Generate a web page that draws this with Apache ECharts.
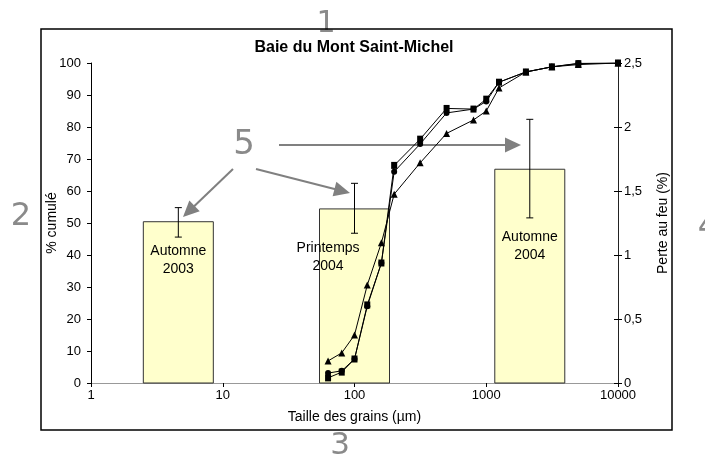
<!DOCTYPE html>
<html><head><meta charset="utf-8">
<script src="https://cdn.jsdelivr.net/npm/echarts@6/dist/echarts.min.js"></script>
<style>html,body{margin:0;padding:0;background:#fff}#c{width:705px;height:459px}</style>
</head><body><div id="c"></div>
<script>
// Grain-size distribution (cumulative %)
const sizes = [63, 80, 100, 125, 160, 200, 315, 500, 800, 1000, 1250, 2000, 3150, 5000, 10000];
const squares = [1.6, 3.4, 7.5, 24.4, 37.5, 68, 76.2, 85.8, 85.6, 88.7, 94, 97.2, 98.8, 99.8, 100];
const circles = [3.1, 3.8, 7.5, 24, 37.5, 66, 74.7, 84.4, 85.6, 88, 94, 97.2, 98.8, 99.9, 100];
const triangles = [6.9, 9.4, 15, 30.6, 43.8, 59, 68.8, 78, 82.2, 85, 92.2, 97.2, 98.8, 99.5, 100];
// Loss on ignition bars (right axis)
const barNames = ['Automne\n2003', 'Printemps\n2004', 'Automne\n2004'];
const barCenters = [4.6, 100, 2140];
const barValues = [1.26, 1.36, 1.67];
const errLow = [1.14, 1.17, 1.29];
const errHigh = [1.37, 1.56, 2.06];
const labelX = [4.6, 63, 2140];
const labelY = [0.96, 0.98, 1.07];
// Tick labels
const xTickLabels = ['1', '10', '100', '1000', '10000'];
const leftTickLabels = ['0','10','20','30','40','50','60','70','80','90','100'];
const rightTickLabels = ['0', '0,5', '1', '1,5', '2', '2,5'];

const FONT = 'Liberation Sans, Arial, sans-serif';
const chart = echarts.init(document.getElementById('c'), null, {renderer: 'canvas'});

function arrow(x1, y1, x2, y2) {
  const dx = x2 - x1, dy = y2 - y1, L = Math.hypot(dx, dy), ux = dx / L, uy = dy / L;
  const hl = 16, hw = 7.5;
  const bx = x2 - ux * hl, by = y2 - uy * hl;
  return [
    {type: 'line', shape: {x1: x1, y1: y1, x2: bx + ux * 2, y2: by + uy * 2}, style: {stroke: '#808080', lineWidth: 2}},
    {type: 'polygon', shape: {points: [[x2, y2], [bx - uy * hw, by + ux * hw], [bx + uy * hw, by - ux * hw]]}, style: {fill: '#808080'}}
  ];
}
function annot(t, x, y, size) {
  return {type: 'text', x: x, y: y, style: {text: t, font: size + 'px "DejaVu Sans", sans-serif', fill: '#8a8a8a', textAlign: 'center', textVerticalAlign: 'middle'}};
}

const barData = barCenters.map((c, i) => [c, barValues[i], errLow[i], errHigh[i], labelX[i], labelY[i]]);
const mk = arr => sizes.map((s, i) => [s, arr[i]]);
const lineStyle = {color: '#000', width: 1};

const tickText = {color: '#000', fontFamily: FONT, fontSize: 13};
const nameText = {color: '#000', fontFamily: FONT, fontSize: 14};

chart.setOption({
  animation: false,
  backgroundColor: '#fff',
  title: {text: 'Baie du Mont Saint-Michel', left: 349, top: 35, textAlign: 'center',
    textStyle: {fontFamily: FONT, fontSize: 16, fontWeight: 'bold', color: '#000'}},
  grid: {left: 91, right: 87, top: 63, bottom: 76},
  xAxis: [{
    type: 'log', logBase: 10, min: 1, max: 10000,
    name: 'Taille des grains (µm)', nameLocation: 'middle', nameGap: 27, nameMoveOverlap: false,
    nameTextStyle: nameText,
    axisLine: {lineStyle: {color: '#000', width: 1}},
    axisTick: {show: true, length: 4, lineStyle: {color: '#000'}},
    axisLabel: Object.assign({margin: 6, formatter: v => xTickLabels[Math.round(Math.log10(v))]}, tickText),
    splitLine: {show: false}, minorTick: {show: false}
  }, {
    type: 'log', logBase: 10, min: 1, max: 10000, position: 'top',
    axisLine: {lineStyle: {color: '#999', width: 1}},
    axisTick: {show: false}, axisLabel: {show: false}, splitLine: {show: false}
  }],
  yAxis: [{
    type: 'value', min: 0, max: 100, interval: 10,
    name: '% cumulé', nameLocation: 'middle', nameGap: 32, nameRotate: 90, nameMoveOverlap: false,
    nameTextStyle: nameText,
    axisLine: {show: true, lineStyle: {color: '#000', width: 1}},
    axisTick: {show: true, length: 4, lineStyle: {color: '#000'}},
    axisLabel: Object.assign({margin: 10, formatter: v => leftTickLabels[Math.round(v / 10)]}, tickText),
    splitLine: {show: false}
  }, {
    type: 'value', min: 0, max: 2.5, interval: 0.5, position: 'right',
    name: 'Perte au feu (%)', nameLocation: 'middle', nameGap: 38, nameRotate: 90, nameMoveOverlap: false,
    nameTextStyle: nameText,
    axisLine: {show: true, lineStyle: {color: '#222', width: 1}},
    axisTick: {show: true, length: 4, lineStyle: {color: '#000'}},
    axisLabel: Object.assign({margin: 6, formatter: v => rightTickLabels[Math.round(v * 2)]}, tickText),
    splitLine: {show: false}
  }, {
    type: 'value', min: 0, max: 2.5, interval: 0.5, position: 'right',
    axisLine: {show: false},
    axisTick: {show: true, inside: true, length: 4, lineStyle: {color: '#000'}},
    axisLabel: {show: false}, splitLine: {show: false}
  }],
  graphic: [
    {type: 'rect', shape: {x: 41, y: 29, width: 631, height: 401}, style: {fill: 'none', stroke: '#000', lineWidth: 1.5}, z: 100},
    ...arrow(233, 169, 183, 217),
    ...arrow(256, 169, 350, 193),
    ...arrow(279, 145, 521, 145),
    annot('1', 326, 24, 30),
    annot('2', 21, 217, 32),
    annot('3', 340, 446, 31),
    annot('4', 708, 228, 32),
    annot('5', 244, 145, 34)
  ],
  series: [{
    type: 'custom', xAxisIndex: 0, yAxisIndex: 1, z: 1,
    data: barData,
    encode: {x: 0, y: 1},
    renderItem: function (params, api) {
      const c = api.value(0), v = api.value(1), lo = api.value(2), hi = api.value(3);
      const top = api.coord([c, v]), base = api.coord([c, 0]);
      const pLo = api.coord([c, lo]), pHi = api.coord([c, hi]);
      const pl = api.coord([api.value(4), api.value(5)]);
      const w = 70, cap = 3.5;
      return {type: 'group', children: [
        {type: 'rect', shape: {x: top[0] - w / 2, y: top[1], width: w, height: base[1] - top[1]},
          style: {fill: '#FFFFCC', stroke: '#333', lineWidth: 1}},
        {type: 'line', shape: {x1: top[0], y1: pLo[1], x2: top[0], y2: pHi[1]}, style: {stroke: '#000', lineWidth: 1}},
        {type: 'line', shape: {x1: top[0] - cap, y1: pLo[1], x2: top[0] + cap, y2: pLo[1]}, style: {stroke: '#000', lineWidth: 1}},
        {type: 'line', shape: {x1: top[0] - cap, y1: pHi[1], x2: top[0] + cap, y2: pHi[1]}, style: {stroke: '#000', lineWidth: 1}},
        {type: 'text', x: pl[0], y: pl[1], style: {text: barNames[params.dataIndex], textAlign: 'center', textVerticalAlign: 'middle',
          font: '14px ' + FONT, fill: '#000', lineHeight: 18}}
      ]};
    }
  }, {
    type: 'line', name: 'tri', data: mk(triangles), yAxisIndex: 0, z: 3,
    symbol: 'triangle', symbolSize: 7, itemStyle: {color: '#000'}, lineStyle: lineStyle
  }, {
    type: 'line', name: 'circ', data: mk(circles), yAxisIndex: 0, z: 4,
    symbol: 'circle', symbolSize: 6, itemStyle: {color: '#000'}, lineStyle: lineStyle
  }, {
    type: 'line', name: 'sq', data: mk(squares), yAxisIndex: 0, z: 5,
    symbol: 'rect', symbolSize: [6, 7], itemStyle: {color: '#000'}, lineStyle: lineStyle
  }]
});
</script>
</body></html>
